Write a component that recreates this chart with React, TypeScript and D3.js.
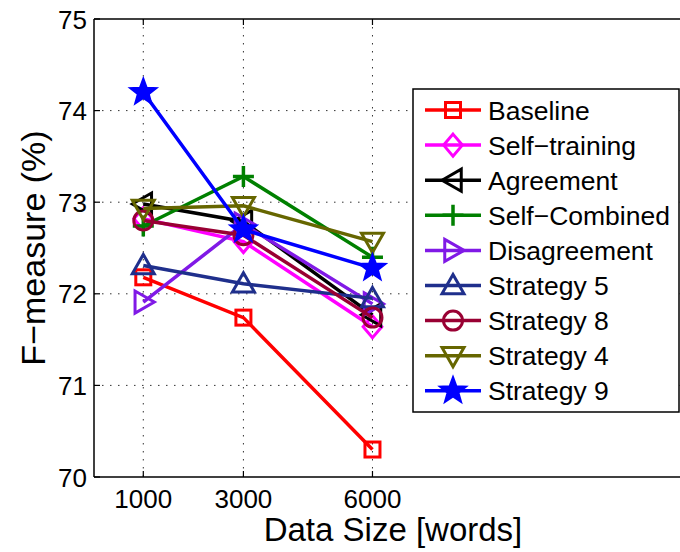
import React from "react";
import * as d3 from "d3";

const dataSizes = [1000, 3000, 6000];
const yTicks = [70, 71, 72, 73, 74, 75];
const seriesNames = ["Baseline", "Self\u2212training", "Agreement", "Self\u2212Combined", "Disagreement", "Strategy 5", "Strategy 8", "Strategy 4", "Strategy 9"];
const baseline = [72.18, 71.74, 70.3];
const selfTraining = [72.82, 72.57, 71.64];
const agreement = [72.98, 72.79, 71.77];
const selfCombined = [72.74, 73.28, 72.4];
const disagreement = [71.91, 72.76, 71.89];
const strategy5 = [72.31, 72.11, 71.95];
const strategy8 = [72.8, 72.64, 71.74];
const strategy4 = [72.93, 72.96, 72.57];
const strategy9 = [74.2, 72.7, 72.28];

const seriesValues = [baseline, selfTraining, agreement, selfCombined, disagreement, strategy5, strategy8, strategy4, strategy9];
const colors = ["#ff0000", "#ff00ff", "#000000", "#008000", "#8019e6", "#1f2f8c", "#990033", "#666600", "#0000ff"];
const markers = ["square", "diamond", "triLeft", "plus", "triRight", "triUp", "circle", "triDown", "star"];

const W = 680, H = 552;
const L = 94, R = 692, T = 19, B = 477;
const FONT = "'Liberation Sans', Arial, sans-serif";

function Marker({ type, x, y, color }: { type: string; x: number; y: number; color: string }) {
  const sw = 3;
  const common = { fill: "none", stroke: color, strokeWidth: sw, strokeLinejoin: "miter" as const };
  if (type === "square") {
    const s = 7.5;
    return <rect x={x - s} y={y - s} width={2 * s} height={2 * s} {...common} />;
  }
  if (type === "diamond") {
    const s = 11;
    return <path d={`M${x},${y - s}L${x + s * 0.85},${y}L${x},${y + s}L${x - s * 0.85},${y}Z`} {...common} />;
  }
  if (type === "circle") {
    return <circle cx={x} cy={y} r={9.5} {...common} />;
  }
  if (type === "plus") {
    const s = 10.5;
    return <path d={`M${x - s},${y}L${x + s},${y}M${x},${y - s}L${x},${y + s}`} {...common} strokeWidth={3.5} />;
  }
  if (type.startsWith("tri")) {
    const s = 11;
    let pts: [number, number][] = [];
    if (type === "triUp") pts = [[x, y - s], [x + s, y + s * 0.75], [x - s, y + s * 0.75]];
    if (type === "triDown") pts = [[x, y + s], [x + s, y - s * 0.75], [x - s, y - s * 0.75]];
    if (type === "triLeft") pts = [[x - s, y], [x + s * 0.75, y - s], [x + s * 0.75, y + s]];
    if (type === "triRight") pts = [[x + s, y], [x - s * 0.75, y - s], [x - s * 0.75, y + s]];
    return <path d={"M" + pts.map((p) => p.join(",")).join("L") + "Z"} {...common} />;
  }
  if (type === "star") {
    const ro = 13, ri = 5.4;
    const pts: string[] = [];
    for (let i = 0; i < 10; i++) {
      const r = i % 2 === 0 ? ro : ri;
      const a = -Math.PI / 2 + (i * Math.PI) / 5;
      pts.push(`${x + r * Math.cos(a)},${y + r * Math.sin(a)}`);
    }
    return <path d={"M" + pts.join("L") + "Z"} {...common} fill={color} strokeWidth={2.5} />;
  }
  return null;
}

export default function App() {
  const x = d3.scalePow().exponent(0.82).domain([212, 14600]).range([L, R]);
  const y = d3.scaleLinear().domain([70, 75]).range([B, T]);
  const line = d3
    .line<number>()
    .x((_, i) => x(dataSizes[i]))
    .y((d) => y(d));

  const legX = 413, legY = 89, legW = 266, legH = 323;
  const rowH = 35.1;

  return (
    <svg width={W} height={H} style={{ position: "absolute", left: 0, top: 0, background: "#fff" }} fontFamily={FONT}>
      <rect x={0} y={0} width={W} height={H} fill="#fff" />
      {/* grid */}
      {dataSizes.map((d) => (
        <line key={"gx" + d} x1={x(d)} x2={x(d)} y1={T} y2={B} stroke="#333" strokeWidth={1} strokeDasharray="1.5,6.5" />
      ))}
      {yTicks.slice(1, -1).map((d) => (
        <line key={"gy" + d} x1={L} x2={R} y1={y(d)} y2={y(d)} stroke="#333" strokeWidth={1} strokeDasharray="1.5,6.5" />
      ))}
      {/* axes */}
      <line x1={L} x2={R} y1={B} y2={B} stroke="#000" strokeWidth={1.5} />
      <line x1={L} x2={R} y1={T} y2={T} stroke="#000" strokeWidth={1.5} />
      <line x1={L} x2={L} y1={T} y2={B} stroke="#000" strokeWidth={1.5} />
      {dataSizes.map((d) => (
        <g key={"tx" + d}>
          <line x1={x(d)} x2={x(d)} y1={B} y2={B - 6} stroke="#000" strokeWidth={1.2} />
          <line x1={x(d)} x2={x(d)} y1={T} y2={T + 6} stroke="#000" strokeWidth={1.2} />
          <text x={x(d)} y={508} textAnchor="middle" fontSize={26} fill="#000">
            {d}
          </text>
        </g>
      ))}
      {yTicks.map((d) => (
        <g key={"ty" + d}>
          <line x1={L} x2={L + 6} y1={y(d)} y2={y(d)} stroke="#000" strokeWidth={1.2} />
          <text x={87} y={y(d) + 9.5} textAnchor="end" fontSize={26} fill="#000">
            {d}
          </text>
        </g>
      ))}
      <text x={393} y={541} textAnchor="middle" fontSize={33} fill="#000">
        Data Size [words]
      </text>
      <text transform={`translate(45,${(T + B) / 2}) rotate(-90)`} textAnchor="middle" fontSize={34} fill="#000">
        F{"\u2212"}measure (%)
      </text>
      {/* series */}
      {seriesValues.map((vals, si) => (
        <g key={"s" + si}>
          <path d={line(vals) || ""} fill="none" stroke={colors[si]} strokeWidth={3.5} />
          {vals.map((v, i) => (
            <Marker key={i} type={markers[si]} x={x(dataSizes[i])} y={y(v)} color={colors[si]} />
          ))}
        </g>
      ))}
      {/* legend */}
      <rect x={legX} y={legY} width={legW} height={legH} fill="#fff" stroke="#000" strokeWidth={1.5} />
      {seriesNames.map((name, si) => {
        const cy = legY + 21 + si * rowH;
        return (
          <g key={"l" + si}>
            <line x1={425} x2={481} y1={cy} y2={cy} stroke={colors[si]} strokeWidth={3.5} />
            <Marker type={markers[si]} x={453} y={cy} color={colors[si]} />
            <text x={488} y={cy + 9.5} fontSize={26.5} fill="#000">
              {name}
            </text>
          </g>
        );
      })}
    </svg>
  );
}
